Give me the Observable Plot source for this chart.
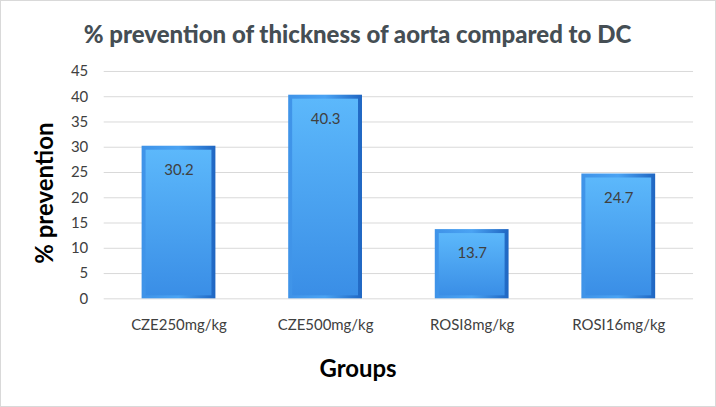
<!DOCTYPE html>
<html>
<head>
<meta charset="utf-8">
<script src="https://cdn.jsdelivr.net/npm/d3@7"></script>
<script src="https://cdn.jsdelivr.net/npm/@observablehq/plot@0.6"></script>
<style>
  html, body { margin: 0; padding: 0; background: #fff; }
  #wrap { position: relative; width: 714px; height: 405px; border: 1px solid #d9d9d9; overflow: hidden; background: #fff; }
  #title { height: 55px; line-height: 66px; text-align: center; font-family: Lato, sans-serif; font-weight: 900; font-size: 24px; color: #454e54; margin-left: -1px; }
  #chart svg { display: block; margin-left: -1px; }
</style>
</head>
<body>
<div id="wrap">
  <div id="title">% prevention of thickness of aorta compared to DC</div>
  <div id="chart"></div>
</div>
<script>
const groups = ["CZE250mg/kg", "CZE500mg/kg", "ROSI8mg/kg", "ROSI16mg/kg"];
const values = [30.2, 40.3, 13.7, 24.7];
const yTicks = [0, 5, 10, 15, 20, 25, 30, 35, 40, 45];

const data = groups.map((g, i) => ({group: g, value: values[i]}));

const chart = Plot.plot({
  width: 716,
  height: 351,
  marginLeft: 104,
  marginRight: 21,
  marginTop: 15,
  marginBottom: 108,
  style: {fontFamily: "Lato, sans-serif", background: "transparent"},
  x: {domain: groups, paddingInner: 0.5, paddingOuter: 0.25, label: null},
  y: {domain: [0, 45], ticks: yTicks, label: null},
  marks: [
    Plot.gridY(yTicks, {stroke: "#d9d9d9", strokeOpacity: 1}),
    Plot.axisY({ticks: yTicks, tickSize: 0, tickPadding: 16, fontSize: 15, fill: "#404040", label: null}),
    Plot.axisX({tickSize: 0, tickPadding: 21, fontSize: 15, fill: "#404040", label: null}),
    Plot.barY(data, {x: "group", y: "value", fill: "url(#edgeGrad)"}),
    Plot.barY(data, {x: "group", y: "value", fill: "url(#faceGrad)", insetLeft: 4, insetRight: 4, insetTop: 4, insetBottom: 3}),
    Plot.text(data, {x: "group", y: "value", text: d => d.value.toFixed(1), dy: 24, fontSize: 15, fill: "#404040"}),
    Plot.text(["% prevention"], {frameAnchor: "left", textAnchor: "middle", rotate: -90, dx: -59, dy: 8, fontSize: 24, fontWeight: "bold", fill: "#000"}),
    Plot.text(["Groups"], {frameAnchor: "bottom", dx: -41, dy: 78, fontSize: 24, fontWeight: "bold", fill: "#000"})
  ]
});

const ns = "http://www.w3.org/2000/svg";
const defs = document.createElementNS(ns, "defs");
defs.innerHTML = `
  <linearGradient id="edgeGrad" x1="0" y1="0" x2="1" y2="0">
    <stop offset="0" stop-color="#3f93e8"/>
    <stop offset="0.5" stop-color="#4aa3f3"/>
    <stop offset="1" stop-color="#1f66c2"/>
  </linearGradient>
  <linearGradient id="faceGrad" x1="0" y1="0" x2="0" y2="1">
    <stop offset="0" stop-color="#5cb8fb"/>
    <stop offset="1" stop-color="#3a8ee6"/>
  </linearGradient>`;
chart.insertBefore(defs, chart.firstChild);
document.getElementById("chart").appendChild(chart);
</script>
</body>
</html>
